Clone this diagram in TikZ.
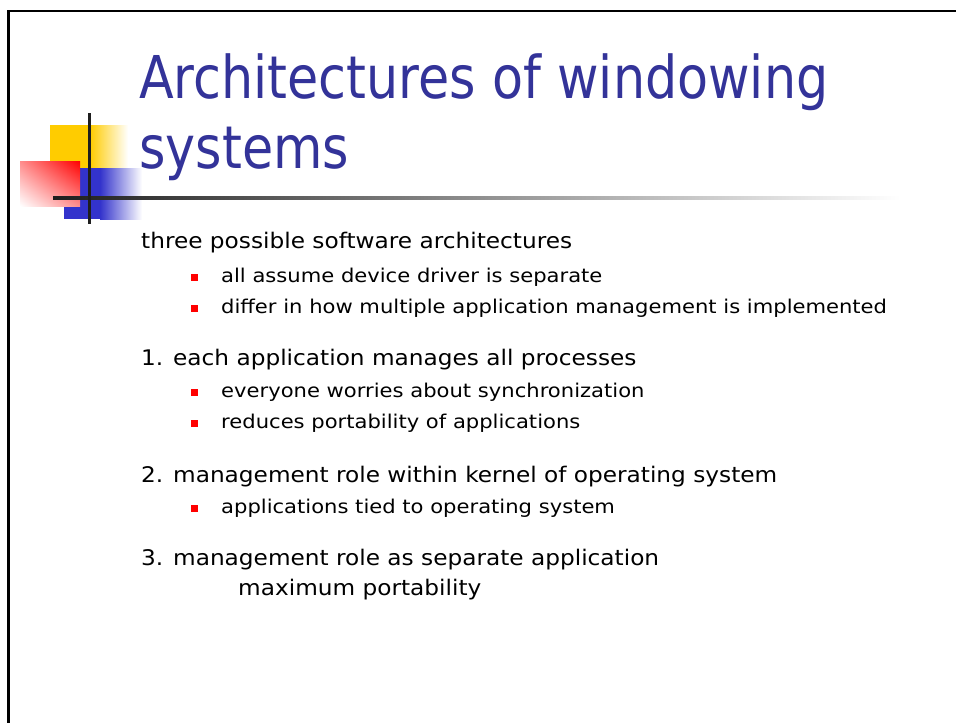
\documentclass[tikz,border=0pt]{standalone}
\usepackage{fontspec}
\usetikzlibrary{shadings}
\setmainfont{DejaVu Sans}
\newfontfamily\titlefont{DejaVu Sans}[FakeStretch=0.86]
\newfontfamily\bodyfont{DejaVu Sans}[FakeStretch=1.08]
\newfontfamily\subfont{DejaVu Sans}[FakeStretch=1.11]
\definecolor{titleblue}{HTML}{333399}
\definecolor{logoyellow}{HTML}{FFCC00}
\definecolor{logoblue}{HTML}{3333CC}
\definecolor{linedark}{HTML}{1E1E1E}
\tikzset{
  slidetitle/.style={anchor=base west, inner sep=0pt, text=titleblue,
    font=\titlefont\fontsize{59}{70}\selectfont},
  lvlone/.style={anchor=base west, inner sep=0pt,
    font=\bodyfont\fontsize{21.5}{26}\selectfont},
  lvltwo/.style={anchor=base west, inner sep=0pt,
    font=\subfont\fontsize{19}{23}\selectfont},
  bulletsq/.style={fill=red, draw=none, inner sep=0pt, minimum size=7.5pt,
    rectangle},
}
\begin{document}
\begin{tikzpicture}[x=1pt,y=-1pt]
\useasboundingbox (0,0) rectangle (956,723);
\fill[white] (0,0) rectangle (956,723);
% slide frame (top and left edges)
\draw[line width=2.6pt] (8.7,723) -- (8.7,11) -- (956,11);

% corner logo: coloured squares with fading edges
\fill[logoyellow] (50,125) rectangle (90,168);
\shade[left color=logoyellow, right color=white] (90,125) rectangle (128,168);
\fill[logoblue] (64,168) rectangle (100,219);
\shade[left color=logoblue, right color=white] (100,168) rectangle (142,219);
\shade[upper right=red, upper left=red!45, lower right=red!45, lower left=white]
  (20,161) rectangle (80,206);
% logo cross lines
\shade[left color=linedark, right color=white] (53,196.5) rectangle (900,199.5);
\fill[linedark] (87.5,113) rectangle (90.5,224);

% title
\node[slidetitle] (t1) at (139,98) {Architectures of windowing};
\node[slidetitle] (t2) at (139,168) {systems};

% body
\node[lvlone] (l1) at (141,248) {three possible software architectures};
\node[bulletsq] (b1) at (194.5,277.5) {};
\node[lvltwo] (l2) at (221,282) {all assume device driver is separate};
\node[bulletsq] (b2) at (194.5,308.5) {};
\node[lvltwo] (l3) at (221,313) {differ in how multiple application management is implemented};

\node[lvlone] (l4) at (141,365) {1. each application manages all processes};
\node[bulletsq] (b3) at (194.5,392.5) {};
\node[lvltwo] (l5) at (221,397) {everyone worries about synchronization};
\node[bulletsq] (b4) at (194.5,423.5) {};
\node[lvltwo] (l6) at (221,428) {reduces portability of applications};

\node[lvlone] (l7) at (141,482) {2. management role within kernel of operating system};
\node[bulletsq] (b5) at (194.5,508.5) {};
\node[lvltwo] (l8) at (221,513) {applications tied to operating system};

\node[lvlone] (l9) at (141,565) {3. management role as separate application};
\node[lvlone] (l10) at (238,595) {maximum portability};
\end{tikzpicture}
\end{document}
